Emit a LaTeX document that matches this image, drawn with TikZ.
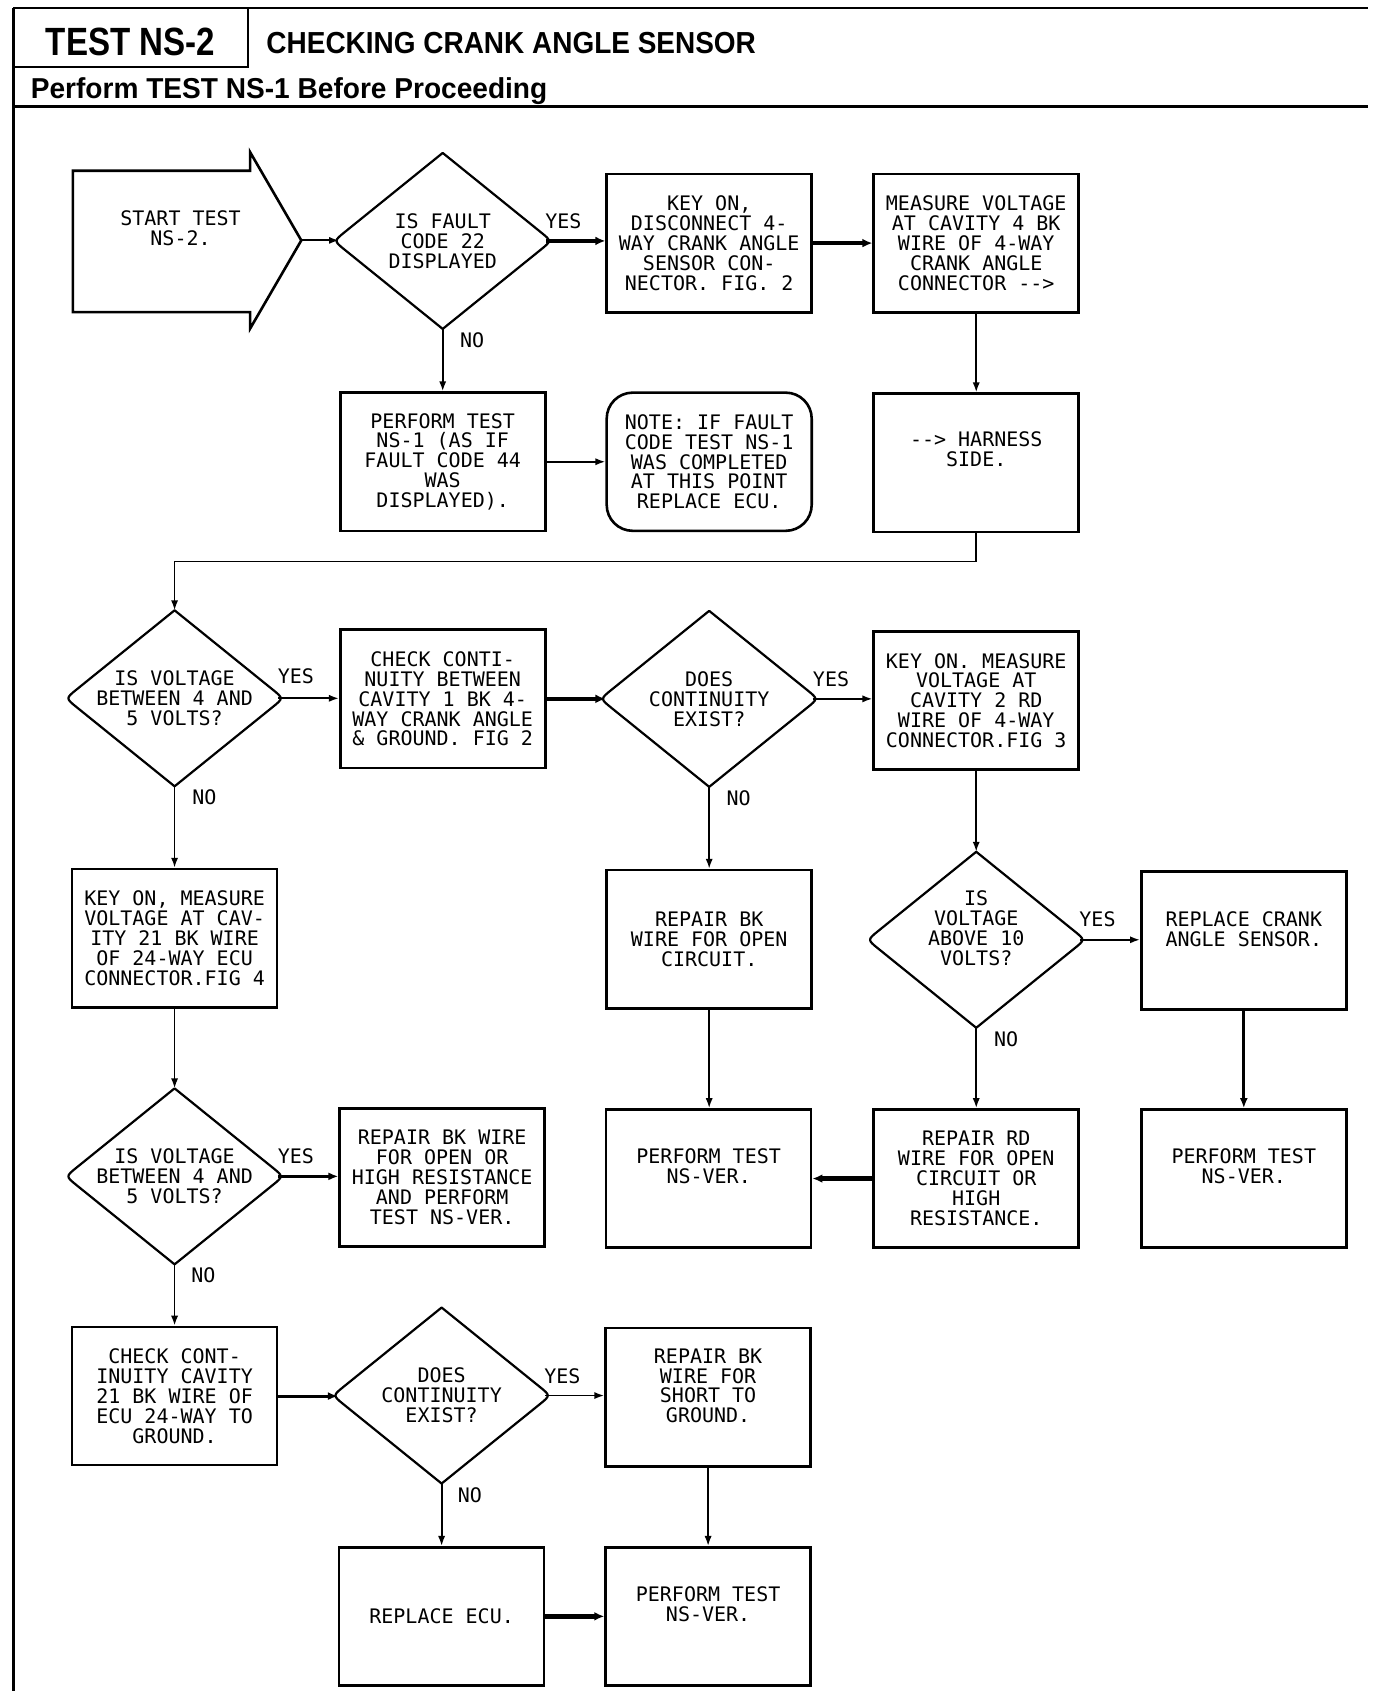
\documentclass[tikz,border=0pt]{standalone}
\usepackage{fontspec}
\usepackage{graphicx}
\usetikzlibrary{arrows.meta,calc}
\newfontfamily\mono{DejaVu Sans Mono}[Ligatures=TeXOff]
\newfontfamily\hsans{Liberation Sans}
\newcommand\Tx[2]{\vbox{\lineskiplimit=-20pt\relax\let\\\cr\halign{\hfil##\hfil\cr#1\cr\noalign{\vskip#2}}}}
\newcommand\drawdia[1]{%
  \coordinate (#1-w) at ([xshift=-2.6pt]#1.west);
  \coordinate (#1-e) at ([xshift=2.6pt]#1.east);
  \draw[dline] (#1.north) -- ($(#1-w)!0.1!(#1.north)$) .. controls (#1-w) .. ($(#1-w)!0.1!(#1.south)$)
    -- (#1.south) -- ($(#1-e)!0.1!(#1.south)$) .. controls (#1-e) .. ($(#1-e)!0.1!(#1.north)$) -- cycle;}
\tikzset{
  txt/.style={font=\mono\fontsize{10}{9.93}\selectfont, inner sep=0pt},
  pbox/.style={txt, draw, line width=1.3pt, minimum width=102.5pt, minimum height=69.1pt},
  qdia/.style={txt, minimum width=103.3pt, minimum height=87.6pt},
  dline/.style={line width=1.1pt, line join=round},
  conn/.style={line width=0.9pt, -{Latex[length=5pt,width=3.6pt]}},
  mconn/.style={line width=1.5pt, -{Latex[length=5pt,width=4pt]}},
  tconn/.style={line width=2.3pt, -{Latex[length=5pt,width=4.4pt]}},
  lbl/.style={txt},
}
\begin{document}
\begin{tikzpicture}[x=0.54385pt, y=-0.54385pt]
\useasboundingbox (0,0) rectangle (1265,1557.4);
\fill[white] (0,0) rectangle (1265,1557.4);
% header frame
\draw[line width=1pt] (12,7) -- (1258,7);
\draw[line width=1.5pt] (12,7) -- (12,1555);
\draw[line width=1pt] (228,7) -- (228,62) -- (12,62);
\draw[line width=1.8pt] (12,98) -- (1258,98);
\node[anchor=base, inner sep=0pt] (ttl) at (120,51) {\scalebox{0.84}[1]{\hsans\bfseries\fontsize{19.7}{22}\selectfont TEST NS-2}};
\node[anchor=base, inner sep=0pt] (sub) at (470,49) {\scalebox{0.92}[1]{\hsans\bfseries\fontsize{15.2}{18}\selectfont CHECKING CRANK ANGLE SENSOR}};
\node[anchor=base west, inner sep=0pt] (pre) at (28,91) {\scalebox{0.975}[1]{\hsans\bfseries\fontsize{14.4}{16}\selectfont Perform TEST NS-1 Before Proceeding}};

% start arrow
\draw[line width=1.3pt, line join=miter] (67,157) -- (230,157) -- (230,140) -- (277,221) -- (230,302) -- (230,287) -- (67,287) -- cycle;
\node[txt] (start) at (166,210) {\Tx{START TEST\\NS-2.}{0pt}};
\coordinate (starttip) at (277,221);

% row 1-2
\node[qdia] (d1) at (407,221.5) {\Tx{IS FAULT\\CODE 22\\DISPLAYED}{0pt}};
\drawdia{d1}
\node[pbox] (b1) at (652,223.5) {\Tx{KEY ON,\\DISCONNECT 4-\\WAY CRANK ANGLE\\SENSOR CON-\\NECTOR. FIG. 2}{0pt}};
\node[pbox] (b2) at (897.5,223.5) {\Tx{MEASURE VOLTAGE\\AT CAVITY 4 BK\\WIRE OF 4-WAY\\CRANK ANGLE\\CONNECTOR -->}{0pt}};
\node[pbox] (b3) at (407,424.5) {\Tx{PERFORM TEST\\NS-1 (AS IF\\FAULT CODE 44\\WAS\\DISPLAYED).}{0pt}};
\node[pbox, rounded corners=13pt] (b4) at (652,424.5) {\Tx{NOTE: IF FAULT\\CODE TEST NS-1\\WAS COMPLETED\\AT THIS POINT\\REPLACE ECU.}{0pt}};
\node[pbox] (b5) at (897.5,425.5) {\Tx{--> HARNESS\\SIDE.}{13.6pt}};

% row 3
\node[qdia] (d2) at (160.5,642) {\Tx{IS VOLTAGE\\BETWEEN 4 AND\\5 VOLTS?}{0pt}};
\drawdia{d2}
\node[pbox] (b6) at (407,642.5) {\Tx{CHECK CONTI-\\NUITY BETWEEN\\CAVITY 1 BK 4-\\WAY CRANK ANGLE\\\& GROUND. FIG 2}{0pt}};
\node[qdia] (d3) at (652,642.5) {\Tx{DOES\\CONTINUITY\\EXIST?}{0pt}};
\drawdia{d3}
\node[pbox] (b7) at (897.5,644) {\Tx{KEY ON. MEASURE\\VOLTAGE AT\\CAVITY 2 RD\\WIRE OF 4-WAY\\CONNECTOR.FIG 3}{0pt}};

% row 4
\node[pbox] (b8) at (160.5,862.5) {\Tx{KEY ON, MEASURE\\VOLTAGE AT CAV-\\ITY 21 BK WIRE\\OF 24-WAY ECU\\CONNECTOR.FIG 4}{0pt}};
\node[pbox] (b9) at (652,863.5) {\Tx{REPAIR BK\\WIRE FOR OPEN\\CIRCUIT.}{0pt}};
\node[qdia] (d4) at (897.5,864) {\Tx{IS\\VOLTAGE\\ABOVE 10\\VOLTS?}{11.4pt}};
\drawdia{d4}
\node[pbox] (b10) at (1143.5,864.5) {\Tx{REPLACE CRANK\\ANGLE SENSOR.}{11.4pt}};

% row 5
\node[qdia] (d5) at (160.5,1081.5) {\Tx{IS VOLTAGE\\BETWEEN 4 AND\\5 VOLTS?}{0pt}};
\drawdia{d5}
\node[pbox] (b11) at (406.5,1082.5) {\Tx{REPAIR BK WIRE\\FOR OPEN OR\\HIGH RESISTANCE\\AND PERFORM\\TEST NS-VER.}{0pt}};
\node[pbox] (b12) at (651.5,1083.5) {\Tx{PERFORM TEST\\NS-VER.}{12.5pt}};
\node[pbox] (b13) at (897.5,1083.5) {\Tx{REPAIR RD\\WIRE FOR OPEN\\CIRCUIT OR\\HIGH\\RESISTANCE.}{0pt}};
\node[pbox] (b14) at (1143.5,1083.5) {\Tx{PERFORM TEST\\NS-VER.}{12.5pt}};

% row 6-7
\node[pbox] (b15) at (160.5,1283.5) {\Tx{CHECK CONT-\\INUITY CAVITY\\21 BK WIRE OF\\ECU 24-WAY TO\\GROUND.}{0pt}};
\node[qdia] (d6) at (406,1283) {\Tx{DOES\\CONTINUITY\\EXIST?}{0pt}};
\drawdia{d6}
\node[pbox] (b16) at (651,1284.5) {\Tx{REPAIR BK\\WIRE FOR\\SHORT TO\\GROUND.}{11.4pt}};
\node[pbox] (b17) at (406,1486) {\Tx{REPLACE ECU.}{0pt}};
\node[pbox] (b18) at (651,1486) {\Tx{PERFORM TEST\\NS-VER.}{12pt}};

% connectors
\draw[conn] (starttip) -- (starttip -| d1.west);
\draw[tconn] (d1.east) -- (d1.east -| b1.west);
\draw[conn] (d1.south) -- (d1.south |- b3.north);
\draw[tconn] (b1.east) -- (b1.east -| b2.west);
\draw[conn] (b3.east) -- (b3.east -| b4.west);
\draw[conn] (b2.south) -- (b2.south |- b5.north);
\draw[conn] (b5.south) -- ++(0,26) -| (d2.north);
\draw[conn] (d2.east) -- (d2.east -| b6.west);
\draw[conn] (d2.south) -- (d2.south |- b8.north);
\draw[tconn] (b6.east) -- (b6.east -| d3.west);
\draw[conn] (d3.east) -- (d3.east -| b7.west);
\draw[conn] (d3.south) -- (d3.south |- b9.north);
\draw[conn] (b7.south) -- (b7.south |- d4.north);
\draw[conn] (d4.east) -- (d4.east -| b10.west);
\draw[conn] (d4.south) -- (d4.south |- b13.north);
\draw[conn] (b8.south) -- (b8.south |- d5.north);
\draw[conn] (b9.south) -- (b9.south |- b12.north);
\draw[mconn] (b10.south) -- (b10.south |- b14.north);
\draw[mconn] (d5.east) -- (d5.east -| b11.west);
\draw[conn] (d5.south) -- (d5.south |- b15.north);
\draw[tconn] (b13.west) -- (b13.west -| b12.east);
\draw[mconn] (b15.east) -- (b15.east -| d6.west);
\draw[conn] (d6.east) -- (d6.east -| b16.west);
\draw[conn] (d6.south) -- (d6.south |- b17.north);
\draw[conn] (b16.south) -- (b16.south |- b18.north);
\draw[tconn] (b17.east) -- (b17.east -| b18.west);

% labels
\node[lbl] (y1) at (518,203) {YES};
\node[lbl] (n1) at (434,313) {NO};
\node[lbl] (y2) at (272,622) {YES};
\node[lbl] (n2) at (188,733) {NO};
\node[lbl] (y3) at (764,624) {YES};
\node[lbl] (n3) at (679,734) {NO};
\node[lbl] (y4) at (1009,845) {YES};
\node[lbl] (n4) at (925,955) {NO};
\node[lbl] (y5) at (272,1063) {YES};
\node[lbl] (n5) at (187,1172) {NO};
\node[lbl] (y6) at (517,1265) {YES};
\node[lbl] (n6) at (432,1375) {NO};
\end{tikzpicture}
\end{document}
